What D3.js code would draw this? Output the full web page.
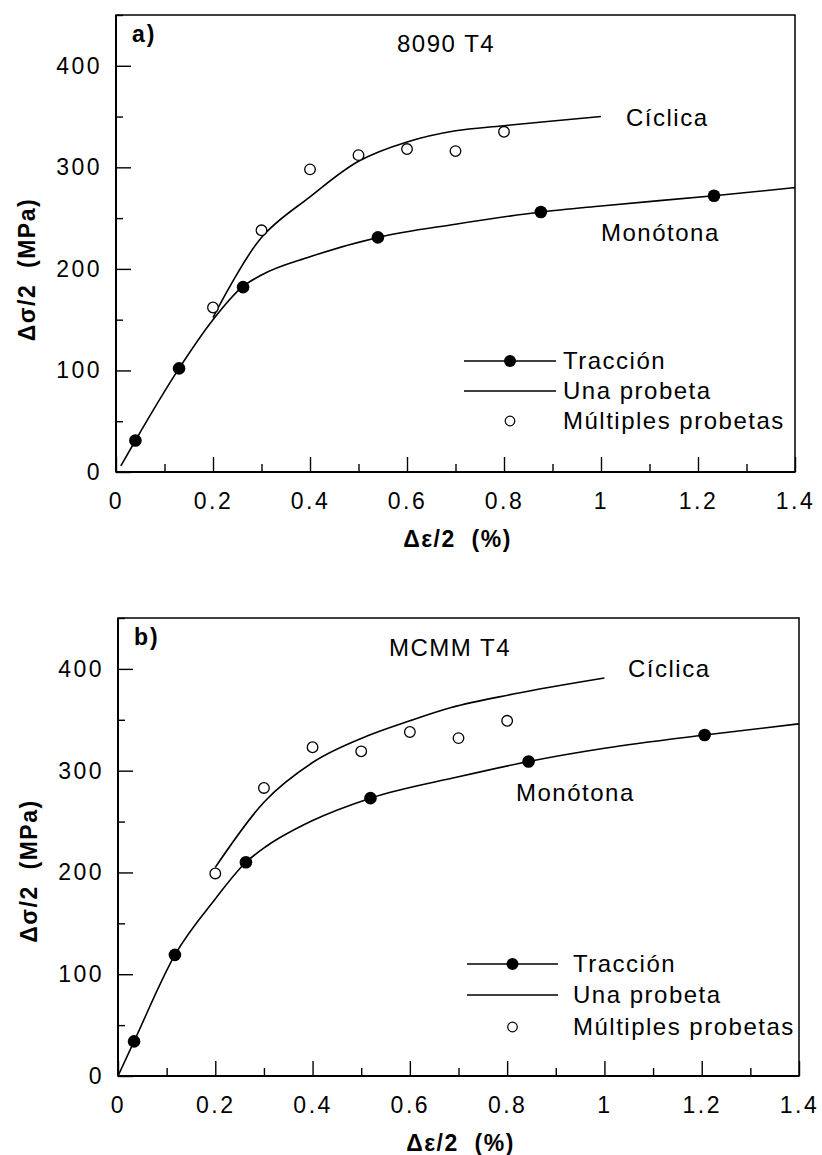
<!DOCTYPE html>
<html>
<head>
<meta charset="utf-8">
<script src="https://cdn.jsdelivr.net/npm/d3@7"></script>
<style>
  body { margin: 0; background: #fff; }
  svg { display: block; font-family: "Liberation Sans", Arial, Helvetica, sans-serif; }
</style>
</head>
<body>
<svg id="chart" width="822" height="1155"></svg>
<script>
// ---------- DATA ----------
const xTicks = [0, 0.2, 0.4, 0.6, 0.8, 1, 1.2, 1.4];
const xTickLabels = ["0", "0.2", "0.4", "0.6", "0.8", "1", "1.2", "1.4"];
const yTicks = [0, 100, 200, 300, 400];
const yTickLabels = ["0", "100", "200", "300", "400"];
const legendLabels = ["Tracción", "Una probeta", "Múltiples probetas"];

// Panel a) 8090 T4
const aMonoLineX = [0.01, 0.04, 0.13, 0.2, 0.26, 0.3, 0.4, 0.54, 0.7, 0.876, 1.0, 1.233, 1.4];
const aMonoLineY = [6, 31, 102, 150, 182, 194, 212, 231, 244, 256, 262, 272, 280];
const aMonoPtsX = [0.04, 0.13, 0.262, 0.54, 0.876, 1.233];
const aMonoPtsY = [31, 102, 182, 231, 256, 272];
const aCycLineX = [0.2, 0.3, 0.4, 0.5, 0.6, 0.7, 0.8, 1.0];
const aCycLineY = [152, 231, 271, 306, 325, 336, 341, 350];
const aMultiX = [0.2, 0.3, 0.4, 0.5, 0.6, 0.7, 0.8];
const aMultiY = [162, 238, 298, 312, 318, 316, 335];

// Panel b) MCMM T4
const bMonoLineX = [0, 0.033, 0.117, 0.2, 0.263, 0.306, 0.4, 0.519, 0.7, 0.844, 1.0, 1.206, 1.4];
const bMonoLineY = [0, 34, 119, 174, 210, 226, 251, 273, 294, 309, 322, 335, 346];
const bMonoPtsX = [0.033, 0.117, 0.263, 0.519, 0.844, 1.206];
const bMonoPtsY = [34, 119, 210, 273, 309, 335];
const bCycLineX = [0.2, 0.3, 0.4, 0.512, 0.6, 0.685, 0.81, 1.0];
const bCycLineY = [205, 269, 308, 334, 349, 362, 375, 391];
const bMultiX = [0.2, 0.3, 0.4, 0.5, 0.6, 0.7, 0.8];
const bMultiY = [199, 283, 323, 319, 338, 332, 349];

// ---------- DRAWING ----------
const svg = d3.select("#chart");
const zip = (xs, ys) => xs.map((x, i) => [x, ys[i]]);
const FONT = "Liberation Sans, Arial, Helvetica, sans-serif";

function drawPanel(p) {
  const x = d3.scaleLinear().domain([0, 1.4]).range([p.left, p.right]);
  const y = d3.scaleLinear().domain([0, 450]).range([p.bottom, p.top]);
  const g = svg.append("g");

  // frame
  g.append("rect").attr("x", p.left).attr("y", p.top)
    .attr("width", p.right - p.left).attr("height", p.bottom - p.top)
    .attr("fill", "none").attr("stroke", "#000").attr("stroke-width", 1.5);

  // minor ticks
  const xMinor = d3.range(0.1, 1.4, 0.2);
  const yMinor = d3.range(50, 451, 100);
  g.append("g").attr("transform", `translate(0,${p.bottom})`)
    .call(d3.axisBottom(x).tickValues(xMinor).tickSize(-8).tickFormat(""))
    .call(s => s.select(".domain").remove());
  g.append("g").attr("transform", `translate(${p.left},0)`)
    .call(d3.axisLeft(y).tickValues(yMinor).tickSize(-7).tickFormat(""))
    .call(s => s.select(".domain").remove());

  // major axes
  g.append("g").attr("transform", `translate(0,${p.bottom})`)
    .call(d3.axisBottom(x).tickValues(xTicks).tickSize(-15).tickPadding(21)
      .tickFormat((d, i) => xTickLabels[i]))
    .call(s => s.select(".domain").remove());
  g.append("g").attr("transform", `translate(${p.left},0)`)
    .call(d3.axisLeft(y).tickValues(yTicks).tickSize(-15).tickPadding(14)
      .tickFormat((d, i) => yTickLabels[i]))
    .call(s => s.select(".domain").remove());
  g.selectAll(".tick line").attr("stroke-width", 1.4);
  g.selectAll(".tick text").attr("font-size", 23).attr("font-family", FONT)
    .attr("fill", "#000").style("letter-spacing", "2.5px");

  // thicker left/bottom edges
  g.append("line").attr("x1", p.left).attr("x2", p.left).attr("y1", p.top).attr("y2", p.bottom)
    .attr("stroke", "#000").attr("stroke-width", 2);
  g.append("line").attr("x1", p.left).attr("x2", p.right).attr("y1", p.bottom).attr("y2", p.bottom)
    .attr("stroke", "#000").attr("stroke-width", 2);

  const smooth = d3.line().x(d => x(d[0])).y(d => y(d[1])).curve(d3.curveMonotoneX);
  const straight = d3.line().x(d => x(d[0])).y(d => y(d[1])).curve(d3.curveCatmullRom.alpha(0.5));

  g.append("path").datum(zip(p.monoLX, p.monoLY)).attr("d", smooth)
    .attr("fill", "none").attr("stroke", "#000").attr("stroke-width", 1.6);
  g.append("path").datum(zip(p.cycLX, p.cycLY)).attr("d", p.cycStraight ? straight : smooth)
    .attr("fill", "none").attr("stroke", "#000").attr("stroke-width", 1.6);

  g.selectAll(".mono").data(zip(p.monoPX, p.monoPY)).enter().append("circle")
    .attr("cx", d => x(d[0])).attr("cy", d => y(d[1])).attr("r", 6.3).attr("fill", "#000");
  g.selectAll(".multi").data(zip(p.multiX, p.multiY)).enter().append("circle")
    .attr("cx", d => x(d[0])).attr("cy", d => y(d[1])).attr("r", 5.3)
    .attr("fill", "#fff").attr("stroke", "#000").attr("stroke-width", 1.3);

  // labels
  g.append("text").attr("x", p.left + 16).attr("y", p.top + 27).text(p.tag)
    .attr("font-size", 23).attr("font-weight", "bold").style("letter-spacing", "2px");
  const txt = (tx, ty, t) => g.append("text").attr("x", tx).attr("y", ty).text(t)
    .attr("font-size", 24).style("letter-spacing", "1.5px");
  txt(p.titleX, p.top + p.titleDy, p.title);
  txt(p.cycTx, p.cycTy, "Cíclica");
  txt(p.monoTx, p.monoTy, "Monótona");

  // axis titles
  g.append("text").attr("transform", `translate(${p.left - 89},${(p.top + p.bottom) / 2 + p.yLabDy}) rotate(-90)`)
    .attr("text-anchor", "middle").attr("font-size", 23).attr("font-weight", "bold")
    .attr("dy", "0.35em").style("letter-spacing", "1.5px").style("white-space", "pre")
    .text("Δσ/2  (MPa)");
  g.append("text").attr("x", (p.left + p.right) / 2 + 2).attr("y", p.bottom + 75)
    .attr("text-anchor", "middle").attr("font-size", 23).attr("font-weight", "bold")
    .style("letter-spacing", "1.5px").style("white-space", "pre")
    .text("Δε/2  (%)");

  // legend
  const L = p.legend;
  const rows = g.append("g");
  rows.append("line").attr("x1", L.x1).attr("x2", L.x2).attr("y1", L.ys[0]).attr("y2", L.ys[0])
    .attr("stroke", "#000").attr("stroke-width", 1.6);
  rows.append("circle").attr("cx", (L.x1 + L.x2) / 2).attr("cy", L.ys[0]).attr("r", 6).attr("fill", "#000");
  rows.append("line").attr("x1", L.x1).attr("x2", L.x2).attr("y1", L.ys[1]).attr("y2", L.ys[1])
    .attr("stroke", "#000").attr("stroke-width", 1.4);
  rows.append("circle").attr("cx", (L.x1 + L.x2) / 2).attr("cy", L.ys[2]).attr("r", 4.8)
    .attr("fill", "#fff").attr("stroke", "#000").attr("stroke-width", 1.2);
  legendLabels.forEach((t, i) => {
    rows.append("text").attr("x", L.tx).attr("y", L.ys[i]).attr("dy", "0.35em")
      .attr("font-size", 24).style("letter-spacing", "1.5px").text(t);
  });
}

drawPanel({
  left: 116, right: 795, top: 15, bottom: 472, yLabDy: 26,
  tag: "a)", title: "8090 T4", titleX: 397, titleDy: 37,
  cycTx: 626, cycTy: 126, monoTx: 601, monoTy: 241, cycStraight: true,
  monoLX: aMonoLineX, monoLY: aMonoLineY, monoPX: aMonoPtsX, monoPY: aMonoPtsY,
  cycLX: aCycLineX, cycLY: aCycLineY, multiX: aMultiX, multiY: aMultiY,
  legend: { x1: 464, x2: 556, tx: 563, ys: [361, 391, 421] }
});

drawPanel({
  left: 118, right: 799, top: 618, bottom: 1076, yLabDy: 24,
  tag: "b)", title: "MCMM T4", titleX: 389, titleDy: 38,
  cycTx: 628, cycTy: 677, monoTx: 516, monoTy: 801, cycStraight: false,
  monoLX: bMonoLineX, monoLY: bMonoLineY, monoPX: bMonoPtsX, monoPY: bMonoPtsY,
  cycLX: bCycLineX, cycLY: bCycLineY, multiX: bMultiX, multiY: bMultiY,
  legend: { x1: 467, x2: 558, tx: 573, ys: [964, 995, 1027] }
});
</script>
</body>
</html>
